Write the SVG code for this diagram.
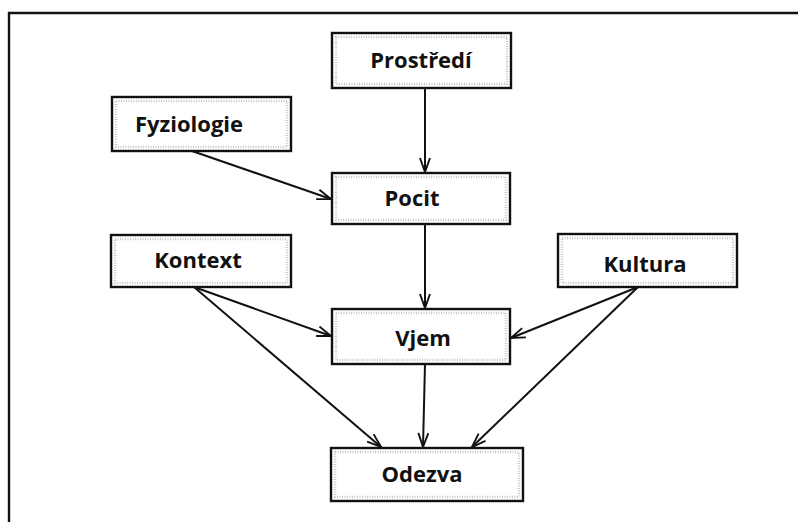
<svg xmlns="http://www.w3.org/2000/svg" width="798" height="522" viewBox="0 0 798 522">
<defs>
<style>
.box{fill:#fff;stroke:#111;stroke-width:2.4}
.stip{fill:none;stroke:#c8c8c8;stroke-width:2.5;stroke-dasharray:1 1.5}
.lbl{font-family:"Open Sans","Noto Sans","DejaVu Sans",sans-serif;font-weight:700;font-size:22px;fill:#111;text-anchor:middle}
.ln{stroke:#111;stroke-width:2;fill:none}
</style>
<marker id="ah" viewBox="0 0 16 12" refX="15" refY="6" markerWidth="16" markerHeight="12" markerUnits="userSpaceOnUse" orient="auto">
<path d="M1,1 L15,6 L1,11" fill="none" stroke="#111" stroke-width="1.9"/>
</marker>
</defs>
<rect width="798" height="522" fill="#fff"/>
<g id="frame">
<path d="M9,522 V13 H798" fill="none" stroke="#111" stroke-width="2.4"/>
</g>
<g id="connectors">
<line class="ln" x1="425" y1="88" x2="425" y2="172" marker-end="url(#ah)"/>
<line class="ln" x1="192" y1="151" x2="331" y2="199" marker-end="url(#ah)"/>
<line class="ln" x1="425" y1="224" x2="425" y2="308" marker-end="url(#ah)"/>
<line class="ln" x1="194" y1="287" x2="331" y2="336" marker-end="url(#ah)"/>
<line class="ln" x1="638" y1="287" x2="511" y2="338" marker-end="url(#ah)"/>
<line class="ln" x1="194" y1="287" x2="381" y2="447" marker-end="url(#ah)"/>
<line class="ln" x1="425" y1="364" x2="423" y2="447" marker-end="url(#ah)"/>
<line class="ln" x1="638" y1="287" x2="472" y2="447" marker-end="url(#ah)"/>
</g>
<g id="prostredi">
<rect class="box" x="332" y="33" width="179" height="55"/>
<rect class="stip" x="336" y="37" width="171" height="47"/>
<text class="lbl" x="421" y="68">Prostředí</text>
</g>
<g id="fyziologie">
<rect class="box" x="112" y="97" width="179" height="54"/>
<rect class="stip" x="116" y="101" width="171" height="46"/>
<text class="lbl" x="189" y="132">Fyziologie</text>
</g>
<g id="pocit">
<rect class="box" x="332" y="173" width="178" height="51"/>
<rect class="stip" x="336" y="177" width="170" height="43"/>
<text class="lbl" x="412" y="206">Pocit</text>
</g>
<g id="kontext">
<rect class="box" x="111" y="235" width="180" height="52"/>
<rect class="stip" x="115" y="239" width="172" height="44"/>
<text class="lbl" x="198" y="268">Kontext</text>
</g>
<g id="kultura">
<rect class="box" x="558" y="234" width="179" height="53"/>
<rect class="stip" x="562" y="238" width="171" height="45"/>
<text class="lbl" x="645" y="272">Kultura</text>
</g>
<g id="vjem">
<rect class="box" x="332" y="309" width="178" height="55"/>
<rect class="stip" x="336" y="313" width="170" height="47"/>
<text class="lbl" x="423" y="346">Vjem</text>
</g>
<g id="odezva">
<rect class="box" x="331" y="448" width="192" height="53"/>
<rect class="stip" x="335" y="452" width="184" height="45"/>
<text class="lbl" x="422" y="482">Odezva</text>
</g>
</svg>
